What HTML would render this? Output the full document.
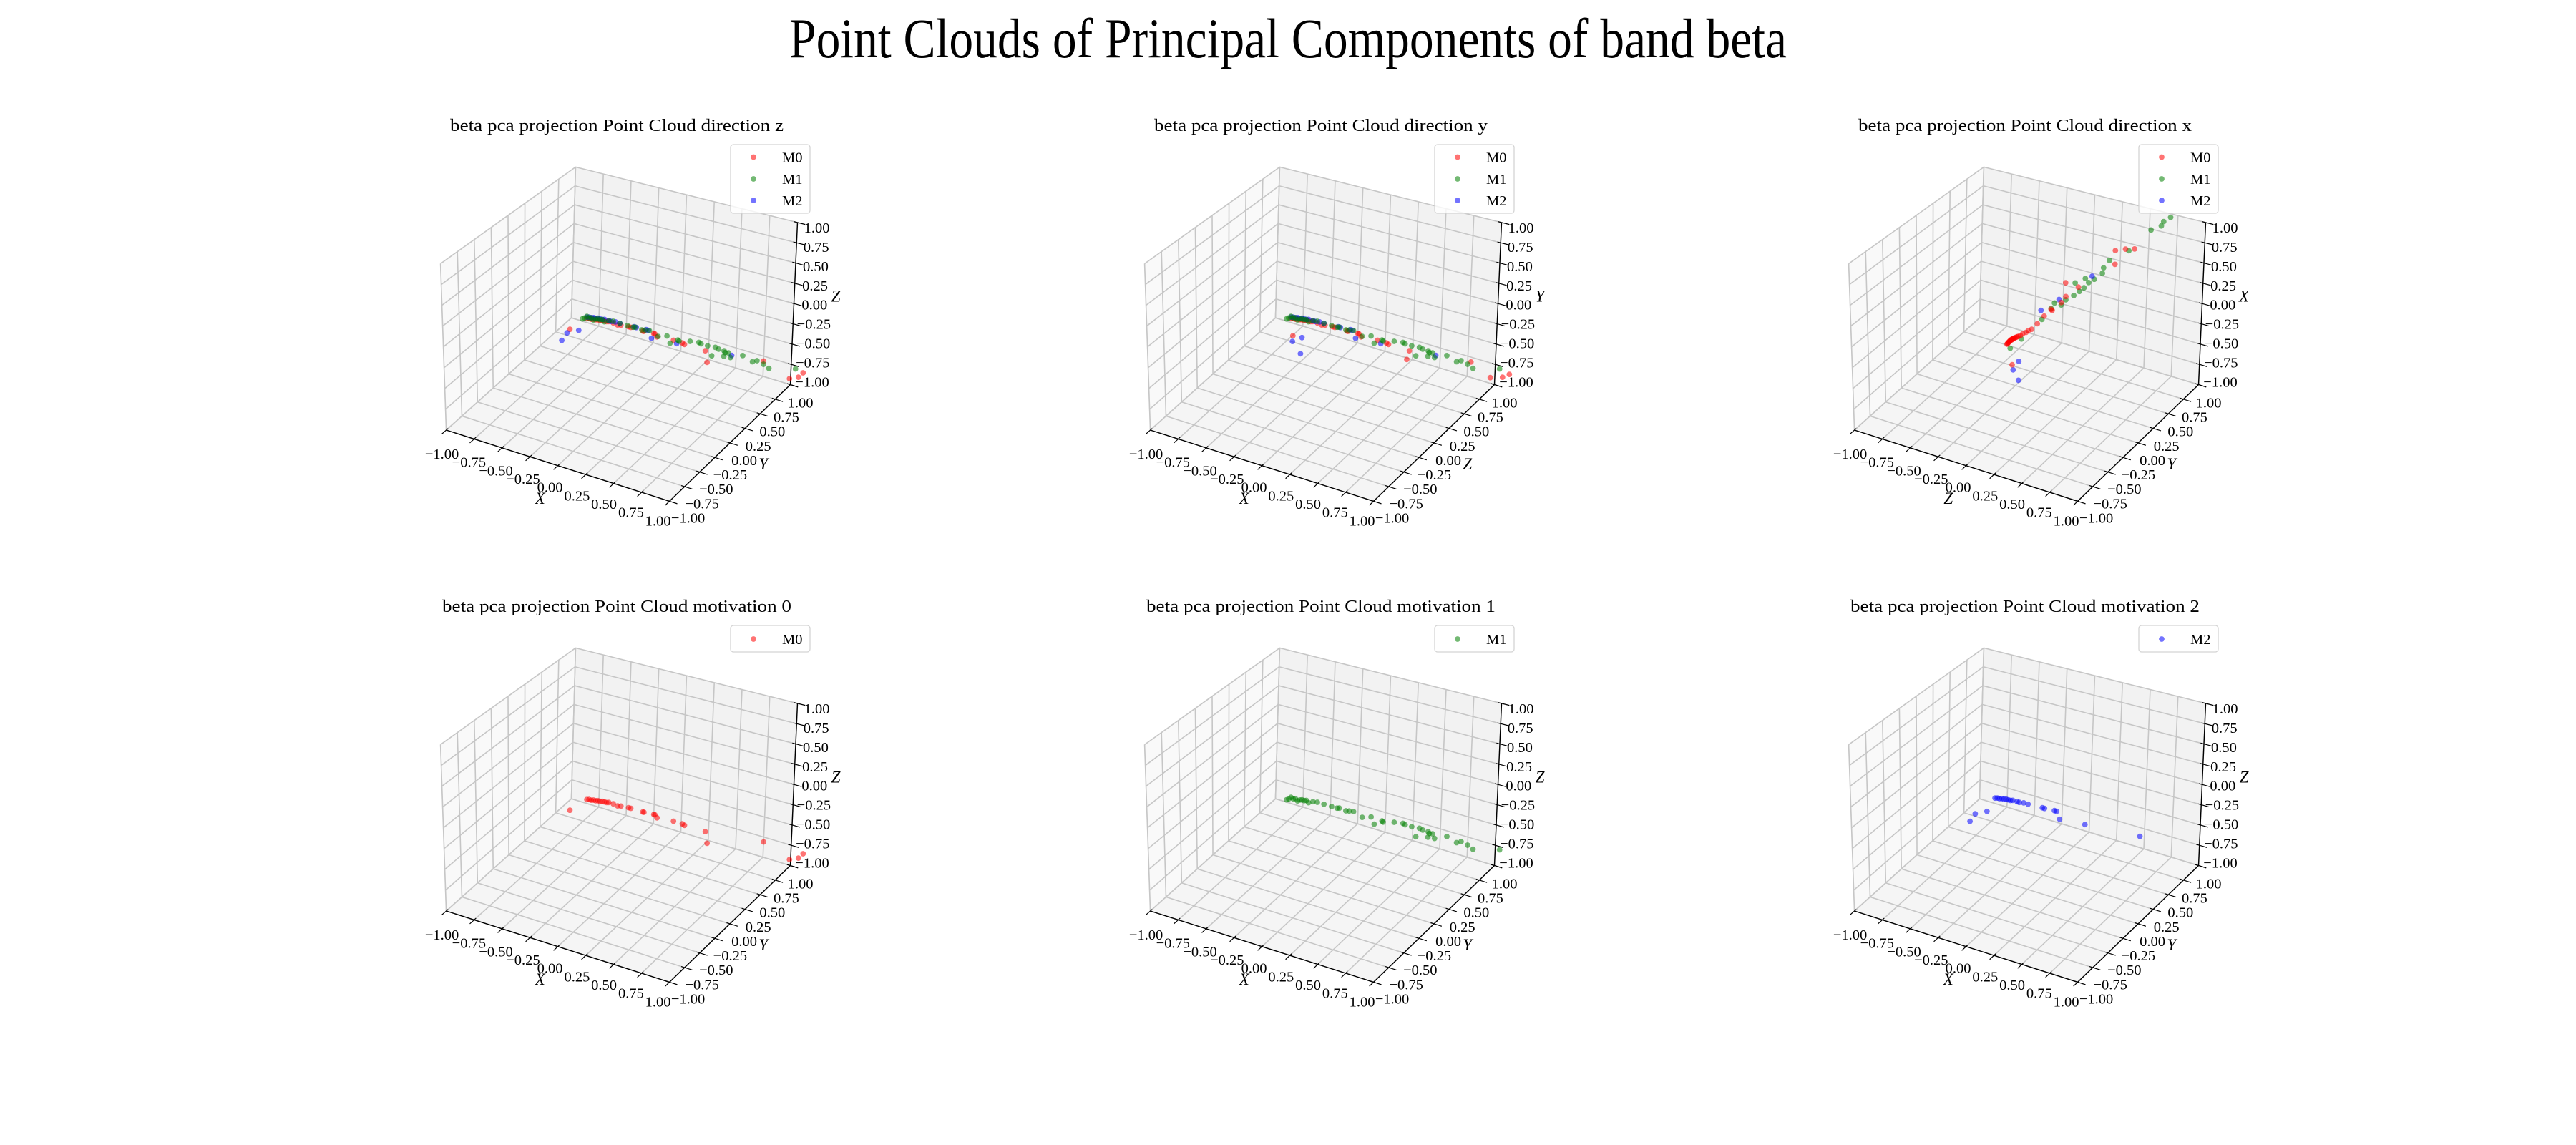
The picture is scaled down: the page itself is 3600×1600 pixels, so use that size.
<!DOCTYPE html>
<html><head><meta charset="utf-8">
<style>
html,body{margin:0;padding:0;background:#fff;}
svg{display:block;font-family:"Liberation Serif","DejaVu Serif",serif;}
</style></head>
<body>
<svg id="fig" width="3600" height="1600" viewBox="0 0 3600 1600" xmlns="http://www.w3.org/2000/svg">
<rect width="3600" height="1600" fill="#ffffff"/>
<text x="1800" y="80" font-size="78" text-anchor="middle" textLength="1394" lengthAdjust="spacingAndGlyphs">Point Clouds of Principal Components of band beta</text>
<g id="panels"></g>
</svg>
<script>
// ---- tick values ----
const tickVals = [-1, -0.75, -0.5, -0.25, 0, 0.25, 0.5, 0.75, 1];
const tickLabels = ["\u22121.00","\u22120.75","\u22120.50","\u22120.25","0.00","0.25","0.50","0.75","1.00"];

// ---- direction z (and motivation panels): X, Y, Z ----
const p1m0x = [-0.86,-0.84,-0.82,-0.80,-0.78,-0.76,-0.74,-0.72,-0.70,-0.68,-0.66,-0.62,-0.58,-0.55,-0.48,-0.46,-0.35,-0.34,-0.25,-0.24,-0.22,-0.07,0.01,0.03,0.22,0.24,0.75,0.99,1.07,1.11,-0.90];
const p1m0y = [1,1,1,1,1,1,1,1,1,1,1,1,1,1,1,1,1,1,1,1,1,1,1,1,1,1,1,1,1,1,0.8];
const p1m0z = [-0.95,-0.94,-0.94,-0.93,-0.93,-0.92,-0.92,-0.91,-0.91,-0.91,-0.90,-0.90,-0.91,-0.90,-0.89,-0.89,-0.89,-0.89,-0.88,-0.88,-0.91,-0.89,-0.89,-0.90,-0.90,-1.04,-0.81,-0.93,-0.88,-0.81,-0.96];
const p1m1x = [-0.90,-0.88,-0.86,-0.84,-0.82,-0.80,-0.78,-0.76,-0.74,-0.72,-0.70,-0.66,-0.62,-0.56,-0.49,-0.44,-0.42,-0.36,-0.33,-0.29,-0.21,-0.13,-0.10,-0.03,-0.02,0.08,0.16,0.18,0.24,0.31,0.34,0.39,0.40,0.43,0.28,0.39,0.45,0.56,0.65,0.69,0.75,0.80,1.04];
const p1m1y = [1,1,1,1,1,1,1,1,1,1,1,1,1,1,1,1,1,1,1,1,1,1,1,1,1,1,1,1,1,1,1,1,1,1,1,1,1,1,1,1,1,1,1];
const p1m1z = [-0.97,-0.95,-0.92,-0.93,-0.92,-0.94,-0.92,-0.91,-0.91,-0.90,-0.92,-0.89,-0.88,-0.88,-0.88,-0.88,-0.87,-0.88,-0.87,-0.86,-0.90,-0.86,-0.94,-0.87,-0.88,-0.84,-0.82,-0.83,-0.83,-0.82,-0.83,-0.83,-0.85,-0.84,-0.94,-0.90,-0.89,-0.82,-0.86,-0.83,-0.85,-0.88,-0.79];
const p1m2x = [-0.86,-0.84,-0.82,-0.80,-0.78,-0.76,-0.74,-0.72,-0.70,-0.66,-0.64,-0.60,-0.56,-0.43,-0.41,-0.32,-0.30,-0.27,-0.04,0.46,-0.87,-0.82,-0.86];
const p1m2y = [1,1,1,1,1,1,1,1,1,1,1,1,1,1,1,1,1,1,1,1,0.7,0.8,0.6];
const p1m2z = [-0.93,-0.92,-0.92,-0.91,-0.91,-0.90,-0.90,-0.90,-0.89,-0.89,-0.89,-0.88,-0.88,-0.87,-0.87,-0.86,-0.86,-0.95,-0.92,-0.86,-0.92,-0.94,-0.94];

// ---- direction y: X, Z (depth), Y (vertical) ----
const p2m0x = [-0.86,-0.84,-0.82,-0.80,-0.78,-0.76,-0.74,-0.72,-0.70,-0.68,-0.66,-0.62,-0.58,-0.55,-0.48,-0.46,-0.35,-0.34,-0.25,-0.24,-0.22,-0.07,0.01,0.03,0.22,0.20,0.78,0.96,1.07,1.13,-0.70];
const p2m0z = [1,1,1,1,1,1,1,1,1,1,1,1,1,1,1,1,1,1,1,1,1,1,1,1,1,1,1,1,1,1,0.75];
const p2m0y = [-0.95,-0.94,-0.94,-0.93,-0.93,-0.92,-0.92,-0.91,-0.91,-0.91,-0.90,-0.90,-0.91,-0.90,-0.89,-0.89,-0.89,-0.89,-0.88,-0.88,-0.91,-0.89,-0.89,-0.90,-0.90,-1.02,-0.81,-0.93,-0.88,-0.82,-0.92];
const p2m1x = p1m1x;
const p2m1z = p1m1y;
const p2m1y = p1m1z;
const p2m2x = [-0.86,-0.84,-0.82,-0.80,-0.78,-0.76,-0.74,-0.72,-0.70,-0.66,-0.64,-0.60,-0.56,-0.43,-0.41,-0.32,-0.30,-0.27,-0.04,0.46,-0.62,-0.59,-0.49];
const p2m2z = [1,1,1,1,1,1,1,1,1,1,1,1,1,1,1,1,1,1,1,1,0.6,0.7,0.5];
const p2m2y = [-0.93,-0.92,-0.92,-0.91,-0.91,-0.90,-0.90,-0.90,-0.89,-0.89,-0.89,-0.88,-0.88,-0.87,-0.87,-0.86,-0.86,-0.95,-0.92,-0.86,-0.85,-0.86,-0.88];

// ---- direction x: Z (horizontal), Y (depth), X (vertical) ----
const p3m0z = [-0.47,-0.465,-0.46,-0.455,-0.45,-0.445,-0.44,-0.435,-0.43,-0.425,-0.42,-0.415,-0.41,-0.40,-0.39,-0.38,-0.37,-0.35,-0.33,-0.30,-0.28,-0.25,-0.20,-0.14,-0.07,-0.08,0.01,0.05,0.045,0.16,0.48,0.48,0.57,0.65,-0.42];
const p3m0y = [0.5,0.5,0.5,0.5,0.5,0.5,0.5,0.5,0.5,0.5,0.5,0.5,0.5,0.5,0.5,0.5,0.5,0.5,0.5,0.5,0.5,0.5,0.5,0.5,0.5,0.5,0.5,0.5,0.5,0.5,0.5,0.5,0.5,0.5,0.5];
const p3m0x = [-0.75,-0.74,-0.73,-0.72,-0.71,-0.70,-0.69,-0.68,-0.68,-0.67,-0.66,-0.66,-0.65,-0.64,-0.63,-0.62,-0.61,-0.59,-0.56,-0.53,-0.50,-0.47,-0.38,-0.26,-0.16,-0.15,-0.03,0.06,0.23,0.22,0.62,0.79,0.84,0.87,-0.99];
const p3m1z = [-0.44,-0.34,-0.16,-0.08,-0.05,0.01,0.05,0.12,0.17,0.21,0.13,0.22,0.25,0.30,0.37,0.38,0.43,0.60,0.79,0.88,0.90,0.96];
const p3m1y = [0.5,0.5,0.5,0.5,0.5,0.5,0.5,0.5,0.5,0.5,0.5,0.5,0.5,0.5,0.5,0.5,0.5,0.5,0.5,0.5,0.5,0.5];
const p3m1x = [-0.79,-0.63,-0.31,-0.14,-0.06,-0.06,0.02,0.10,0.17,0.23,0.26,0.35,0.31,0.37,0.47,0.54,0.65,0.83,1.15,1.23,1.29,1.36];
const p3m2z = [-0.36,-0.41,-0.36,-0.17,-0.01,0.28];
const p3m2y = [0.5,0.5,0.5,0.5,0.5,0.5];
const p3m2x = [-0.92,-1.05,-1.16,-0.20,0.00,0.40];

const seriesNames = ["M0","M1","M2"];
const seriesColors = ["#ff0000","#008000","#0000ff"];

// projected box corners (panel 1 pixel space)
const C = {
  FL:[623.6,601.0], FB:[935.6,700.4], R:[1104.5,537.5], B:[798.5,444.1],
  TL:[615.6,368.5], TF:[938.0,455.2], TR:[1114.5,310.9], TB:[804.4,233.4]
};
const NS = "http://www.w3.org/2000/svg";
function lerp(a,b,t){return [a[0]+(b[0]-a[0])*t, a[1]+(b[1]-a[1])*t];}
function project(ox, oy, u, v, w){
  const s=(u+1)/2, t=(v+1)/2, r=(w+1)/2;
  const b0=lerp(C.FL,C.FB,s), b1=lerp(C.B,C.R,s);
  const t0=lerp(C.TL,C.TF,s), t1=lerp(C.TB,C.TR,s);
  const bot=lerp(b0,b1,t), top=lerp(t0,t1,t);
  const p=lerp(bot,top,r);
  return [p[0]+ox, p[1]+oy];
}
function mk(tag, attrs, parent){
  const e=document.createElementNS(NS,tag);
  for(const k in attrs) e.setAttribute(k, attrs[k]);
  parent.appendChild(e); return e;
}
function line(g, a, b, stroke, sw){
  return mk('line',{x1:a[0].toFixed(2),y1:a[1].toFixed(2),x2:b[0].toFixed(2),y2:b[1].toFixed(2),stroke:stroke,'stroke-width':sw},g);
}

const root=document.getElementById('panels');

function drawPanel(idx, ox, oy, title, labels, series, legendIdx){
  const g=mk('g',{},root);
  
  
  const P=(u,v,w)=>project(ox,oy,u,v,w);
  const panes=[
    {n:'left-pane', pts:[P(-1,-1,-1),P(-1,1,-1),P(-1,1,1),P(-1,-1,1)], f:'#f9f9f9'},
    {n:'back-pane', pts:[P(-1,1,-1),P(1,1,-1),P(1,1,1),P(-1,1,1)], f:'#f2f2f2'},
    {n:'floor-pane', pts:[P(-1,-1,-1),P(1,-1,-1),P(1,1,-1),P(-1,1,-1)], f:'#f5f5f5'}
  ];
  panes.forEach(pn=>{
    const e=mk('polygon',{points:pn.pts.map(p=>p[0].toFixed(1)+','+p[1].toFixed(1)).join(' '),fill:pn.f,stroke:'#ececec','stroke-width':1.5},g);
    
    
  });
  const gg=mk('g',{},g);
  
  
  const gc='#c6c6c6', gw=1.6;
  tickVals.forEach(v=>{
    line(gg,P(v,-1,-1),P(v,1,-1),gc,gw);
    line(gg,P(-1,v,-1),P(1,v,-1),gc,gw);
    line(gg,P(-1,v,-1),P(-1,v,1),gc,gw);
    line(gg,P(-1,-1,v),P(-1,1,v),gc,gw);
    line(gg,P(v,1,-1),P(v,1,1),gc,gw);
    line(gg,P(-1,1,v),P(1,1,v),gc,gw);
  });
  const ax=mk('g',{},g);
  
  
  line(ax,P(-1,-1,-1),P(1,-1,-1),'#000',1.4);
  line(ax,P(1,-1,-1),P(1,1,-1),'#000',1.4);
  line(ax,P(1,1,-1),P(1,1,1),'#000',1.4);
  const tl=mk('g',{'font-size':20.5,fill:'#000','text-anchor':'middle','dominant-baseline':'central'},g);
  
  
  tickVals.forEach((v,i)=>{
    const s=(v+1)/2;
    line(ax,P(v,-0.97,-1),P(v,-1.07,-1),'#000',1.2);
    line(ax,P(0.97,v,-1),P(1.07,v,-1),'#000',1.2);
    line(ax,P(0.97,1,v),P(1.07,1,v),'#000',1.2);
    const px=P(v,-1,-1);
    const t1=mk('text',{x:(px[0]-6-10*s).toFixed(1),y:(px[1]+34-6*s).toFixed(1)},tl);
    t1.textContent=tickLabels[i];
    const py=P(1,v,-1);
    const t2=mk('text',{x:(py[0]+26-12*s).toFixed(1),y:(py[1]+24+2*s).toFixed(1)},tl);
    t2.textContent=tickLabels[i];
    const pz=P(1,1,v);
    const t3=mk('text',{x:(pz[0]+30.5-3.5*s).toFixed(1),y:(pz[1]-3+11*s).toFixed(1)},tl);
    t3.textContent=tickLabels[i];
  });
  const al=[[labels[0],754.8,696.4],[labels[1],1066.8,648.7],[labels[2],1168,414.2]];
  al.forEach((a,i)=>{
    const t=mk('text',{x:a[1]+ox,y:a[2]+oy,'font-size':23,'font-style':'italic','text-anchor':'middle','dominant-baseline':'central'},g);
    
    
    t.textContent=a[0];
  });
  const tt=mk('text',{x:862+ox,y:183+oy,'font-size':24,'text-anchor':'middle',textLength:(title.indexOf('motivation')>=0?488:466),lengthAdjust:'spacingAndGlyphs'},g);
  
  
  tt.textContent=title;
  series.forEach(sr=>{
    const sg=mk('g',{fill:seriesColors[sr.k],'fill-opacity':0.55},g);
    
    
    for(let i=0;i<sr.a.length;i++){
      const p=P(sr.a[i],sr.b[i],sr.c[i]);
      const c=mk('circle',{cx:p[0].toFixed(1),cy:p[1].toFixed(1),r:3.9},sg);
      
      
    }
  });
  const lg=mk('g',{},g);
  
  
  const h = legendIdx.length===3 ? 96 : 37;
  mk('rect',{x:1021+ox,y:202+oy,width:111,height:h,rx:4,fill:'#ffffff','fill-opacity':0.8,stroke:'#d4d4d4','stroke-width':1.3},lg);
  legendIdx.forEach((k,j)=>{
    const yy=(legendIdx.length===3?[219.5,250,280][j]:221)+oy;
    const e=mk('g',{},lg);
    
    
    mk('circle',{cx:1053+ox,cy:yy,r:3.9,fill:seriesColors[k],'fill-opacity':0.55},e);
    const t=mk('text',{x:1093+ox,y:yy+7,'font-size':20.5},e);
    t.textContent=seriesNames[k];
  });
}

const COL=984, ROW=672;
drawPanel(0,0,0,'beta pca projection Point Cloud direction z',['X','Y','Z'],[
  {k:0,a:p1m0x,b:p1m0y,c:p1m0z},{k:2,a:p1m2x,b:p1m2y,c:p1m2z},{k:1,a:p1m1x,b:p1m1y,c:p1m1z}],[0,1,2]);
drawPanel(1,COL,0,'beta pca projection Point Cloud direction y',['X','Z','Y'],[
  {k:0,a:p2m0x,b:p2m0z,c:p2m0y},{k:2,a:p2m2x,b:p2m2z,c:p2m2y},{k:1,a:p2m1x,b:p2m1z,c:p2m1y}],[0,1,2]);
drawPanel(2,2*COL,0,'beta pca projection Point Cloud direction x',['Z','Y','X'],[
  {k:1,a:p3m1z,b:p3m1y,c:p3m1x},{k:2,a:p3m2z,b:p3m2y,c:p3m2x},{k:0,a:p3m0z,b:p3m0y,c:p3m0x}],[0,1,2]);
drawPanel(3,0,ROW,'beta pca projection Point Cloud motivation 0',['X','Y','Z'],[
  {k:0,a:p1m0x,b:p1m0y,c:p1m0z}],[0]);
drawPanel(4,COL,ROW,'beta pca projection Point Cloud motivation 1',['X','Y','Z'],[
  {k:1,a:p1m1x,b:p1m1y,c:p1m1z}],[1]);
drawPanel(5,2*COL,ROW,'beta pca projection Point Cloud motivation 2',['X','Y','Z'],[
  {k:2,a:p1m2x,b:p1m2y,c:p1m2z}],[2]);
</script>
</body></html>
